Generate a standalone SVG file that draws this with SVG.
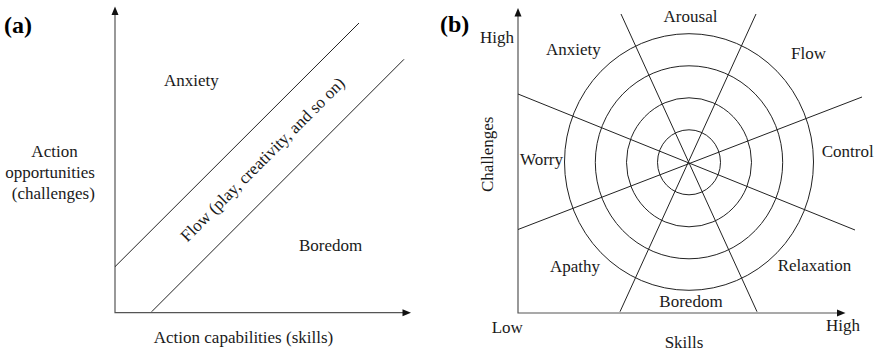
<svg xmlns="http://www.w3.org/2000/svg" width="878" height="354" viewBox="0 0 878 354">
<defs>
<style>
text{font-family:"Liberation Serif","Times New Roman",serif;font-size:17px;fill:#1a1a1a}
.tag{font-weight:bold;font-size:24px;fill:#000}
.ln{stroke:#222;stroke-width:1;fill:none}
.ax{stroke:#555;stroke-width:1.2;fill:none}
.ah{fill:#111}
</style>
</defs>
<rect width="878" height="354" fill="#fff"/>
<g id="panel-a">
<text class="tag" x="4" y="33">(a)</text>
<g id="axes-a">
<path class="ax" d="M115 12 V312.7 H405"/>
<path class="ah" d="M115 6.5 L118.5 15 L111.5 15 Z"/>
<path class="ah" d="M411 312.7 L402.5 309.2 L402.5 316.2 Z"/>
</g>
<g id="bands-a">
<line class="ln" x1="115" y1="266.7" x2="359" y2="23"/>
<line class="ln" x1="151.7" y1="311.7" x2="404" y2="59.3"/>
</g>
<text x="164" y="86">Anxiety</text>
<text x="299" y="251">Boredom</text>
<text x="266.5" y="163.5" text-anchor="middle" transform="rotate(-45 266.5 163.5)">Flow (play, creativity, and so on)</text>
<text text-anchor="middle"><tspan x="54.5" y="157">Action</tspan><tspan x="50" y="178">opportunities</tspan><tspan x="53.3" y="198.5">(challenges)</tspan></text>
<text x="243.5" y="343" text-anchor="middle">Action capabilities (skills)</text>
</g>
<g id="panel-b">
<text class="tag" x="440" y="32">(b)</text>
<g id="axes-b">
<path class="ax" d="M518 14 V313 H839"/>
<path class="ah" d="M518 8 L521.5 16.5 L514.5 16.5 Z"/>
<path class="ah" d="M845.5 313 L837 309.5 L837 316.5 Z"/>
</g>
<g id="rings">
<ellipse class="ln" cx="689" cy="162.3" rx="31.5" ry="32.5"/>
<ellipse class="ln" cx="689" cy="162.3" rx="62.5" ry="64.5"/>
<ellipse class="ln" cx="689" cy="162.3" rx="93.7" ry="96.5"/>
<ellipse class="ln" cx="689" cy="162" rx="124.5" ry="128.3"/>
</g>
<g id="spokes">
<line class="ln" x1="621" y1="14" x2="757" y2="311.7"/>
<line class="ln" x1="756" y1="14" x2="620" y2="311.7"/>
<line class="ln" x1="518" y1="94" x2="855" y2="230"/>
<line class="ln" x1="518" y1="229.5" x2="862" y2="97"/>
</g>
<text x="480" y="42.7">High</text>
<text x="690.5" y="21.7" text-anchor="middle">Arousal</text>
<text x="546" y="55">Anxiety</text>
<text x="791" y="59.3">Flow</text>
<text x="520" y="165">Worry</text>
<text x="821.7" y="156.7">Control</text>
<text x="550" y="271.7">Apathy</text>
<text x="777.7" y="270.7">Relaxation</text>
<text x="691" y="306.7" text-anchor="middle">Boredom</text>
<text x="491.7" y="333.3">Low</text>
<text x="826" y="331">High</text>
<text x="684" y="348.3" text-anchor="middle">Skills</text>
<text x="493" y="154.3" text-anchor="middle" transform="rotate(-90 493 154.3)">Challenges</text>
</g>
</svg>
